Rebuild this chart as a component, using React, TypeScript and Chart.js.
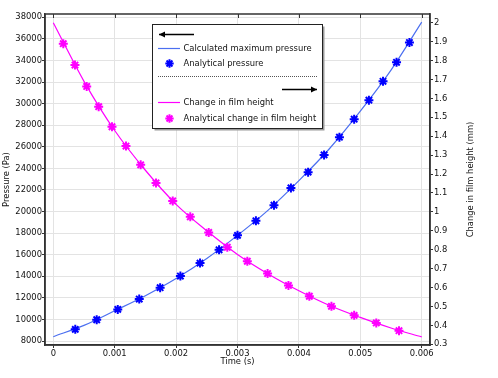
import React, { useEffect, useRef } from 'react';
import { Chart, registerables } from 'chart.js';

Chart.register(...registerables);

// ---- data ----
const lineTimes = [0, 0.0005, 0.001, 0.0015, 0.002, 0.0025, 0.003, 0.0035, 0.004, 0.0045, 0.005, 0.0055, 0.006];
const pressureLine = [8400, 9445, 10800, 12200, 13790, 15650, 17790, 20130, 22860, 25840, 29300, 33110, 37550];
const heightLine = [2.0, 1.69, 1.43, 1.22, 1.04, 0.9, 0.775, 0.672, 0.583, 0.505, 0.442, 0.386, 0.339];

const pressureMarkT = [0.000358, 0.000707, 0.00105, 0.0014, 0.00174, 0.00207, 0.00239, 0.0027, 0.003, 0.0033, 0.003594, 0.00387, 0.00415, 0.00441, 0.00466, 0.0049, 0.00514, 0.00537, 0.00559, 0.0058];
const pressureMarkP = [9080, 9970, 10930, 11890, 12940, 14020, 15220, 16450, 17790, 19140, 20590, 22190, 23650, 25250, 26890, 28560, 30320, 32070, 33830, 35660];

const heightMarkT = [0.000163, 0.000353, 0.000544, 0.000739, 0.000956, 0.001184, 0.001423, 0.001673, 0.001945, 0.002231, 0.002531, 0.002834, 0.00316, 0.00349, 0.00383, 0.00417, 0.00453, 0.0049, 0.00526, 0.00563];
const heightMarkH = [1.889, 1.776, 1.663, 1.556, 1.45, 1.348, 1.249, 1.153, 1.058, 0.974, 0.891, 0.813, 0.739, 0.674, 0.611, 0.554, 0.501, 0.453, 0.413, 0.372];

const xTicks = [0, 0.001, 0.002, 0.003, 0.004, 0.005, 0.006];
const xTickLabels = ['0', '0.001', '0.002', '0.003', '0.004', '0.005', '0.006'];
const pTicks = [8000, 10000, 12000, 14000, 16000, 18000, 20000, 22000, 24000, 26000, 28000, 30000, 32000, 34000, 36000, 38000];
const pTickLabels = pTicks.map((v) => String(v));
const hTicks = [0.3, 0.4, 0.5, 0.6, 0.7, 0.8, 0.9, 1, 1.1, 1.2, 1.3, 1.4, 1.5, 1.6, 1.7, 1.8, 1.9, 2];
const hTickLabels = ['0.3', '0.4', '0.5', '0.6', '0.7', '0.8', '0.9', '1', '1.1', '1.2', '1.3', '1.4', '1.5', '1.6', '1.7', '1.8', '1.9', '2'];

const legendLabels = ['Calculated maximum pressure', 'Analytical pressure', 'Change in film height', 'Analytical change in film height'];
const xTitle = 'Time (s)';
const yTitle = 'Pressure (Pa)';
const y1Title = 'Change in film height (mm)';

const BLUE_LINE = '#4b6ff0';
const BLUE_MARK = '#0000ff';
const MAG = '#ff00ff';
const FONT = 'DejaVu Sans';
const FS = 8.4;

const zip = (xs: number[], ys: number[]) => xs.map((x, i) => ({ x, y: ys[i] }));

function drawStar(ctx: CanvasRenderingContext2D, x: number, y: number, r: number, color: string) {
  ctx.save();
  ctx.strokeStyle = color;
  ctx.lineWidth = 2;
  ctx.beginPath();
  for (let k = 0; k < 4; k++) {
    const a = (k * Math.PI) / 4;
    ctx.moveTo(x - r * Math.cos(a), y - r * Math.sin(a));
    ctx.lineTo(x + r * Math.cos(a), y + r * Math.sin(a));
  }
  ctx.stroke();
  ctx.restore();
}

function drawArrow(ctx: CanvasRenderingContext2D, x1: number, x2: number, y: number, dir: number) {
  ctx.save();
  ctx.strokeStyle = '#000';
  ctx.fillStyle = '#000';
  ctx.lineWidth = 1.3;
  ctx.beginPath();
  ctx.moveTo(x1, y);
  ctx.lineTo(x2, y);
  ctx.stroke();
  const tip = dir < 0 ? x1 : x2;
  ctx.beginPath();
  ctx.moveTo(tip, y);
  ctx.lineTo(tip - dir * 6, y - 3);
  ctx.lineTo(tip - dir * 6, y + 3);
  ctx.closePath();
  ctx.fill();
  ctx.restore();
}

const overlay = {
  id: 'overlay',
  afterDraw(chart: any) {
    const { ctx, chartArea: a, scales } = chart;
    ctx.save();
    // frame
    ctx.strokeStyle = '#333';
    ctx.lineWidth = 1.5;
    ctx.strokeRect(a.left, a.top, a.right - a.left, a.bottom - a.top);
    // top ticks
    ctx.lineWidth = 1;
    ctx.beginPath();
    xTicks.forEach((v) => {
      const px = Math.round(scales.x.getPixelForValue(v)) + 0.5;
      ctx.moveTo(px, a.top);
      ctx.lineTo(px, a.top + 4);
    });
    ctx.stroke();

    // legend box
    const L = 152.5, T = 24.5, R = 322.5, B = 128.5;
    ctx.fillStyle = '#9a9a9a';
    ctx.fillRect(L + 2, T + 2, R - L, B - T);
    ctx.fillStyle = '#fff';
    ctx.fillRect(L, T, R - L, B - T);
    ctx.strokeStyle = '#222';
    ctx.lineWidth = 1;
    ctx.strokeRect(L, T, R - L, B - T);

    drawArrow(ctx, 159, 194, 34.5, -1);

    ctx.font = `${FS}px "${FONT}"`;
    ctx.textBaseline = 'middle';
    ctx.textAlign = 'left';
    ctx.fillStyle = '#111';

    ctx.strokeStyle = BLUE_LINE;
    ctx.lineWidth = 1.2;
    ctx.beginPath();
    ctx.moveTo(158, 48.5);
    ctx.lineTo(180, 48.5);
    ctx.stroke();
    ctx.fillText(legendLabels[0], 183.5, 48.5);

    drawStar(ctx, 169.5, 63.5, 4.2, BLUE_MARK);
    ctx.fillText(legendLabels[1], 183.5, 63.5);

    ctx.save();
    ctx.strokeStyle = '#555';
    ctx.lineWidth = 1;
    ctx.setLineDash([1, 1]);
    ctx.beginPath();
    ctx.moveTo(158, 76.5);
    ctx.lineTo(317, 76.5);
    ctx.stroke();
    ctx.restore();

    drawArrow(ctx, 282, 317, 89.5, 1);

    ctx.strokeStyle = MAG;
    ctx.lineWidth = 1.2;
    ctx.beginPath();
    ctx.moveTo(158, 102.5);
    ctx.lineTo(180, 102.5);
    ctx.stroke();
    ctx.fillStyle = '#111';
    ctx.fillText(legendLabels[2], 183.5, 102.5);

    drawStar(ctx, 169.5, 118.5, 4.2, MAG);
    ctx.fillText(legendLabels[3], 183.5, 118.5);

    // right axis title (reads bottom-to-top)
    ctx.translate(471, (a.top + a.bottom) / 2);
    ctx.rotate(-Math.PI / 2);
    ctx.textAlign = 'center';
    ctx.fillText(y1Title, 0, 0);
    ctx.restore();
  },
};

export default function App() {
  const ref = useRef<HTMLCanvasElement | null>(null);

  useEffect(() => {
    if (!ref.current) return;
    Chart.defaults.font.family = FONT;
    Chart.defaults.font.size = FS;
    Chart.defaults.color = '#111';

    const grid = '#e3e3e3';
    const chart = new Chart(ref.current, {
      type: 'line',
      data: {
        datasets: [
          {
            label: legendLabels[1],
            data: zip(pressureMarkT, pressureMarkP),
            yAxisID: 'y',
            showLine: false,
            pointStyle: 'star',
            pointRadius: 4.5,
            pointBorderWidth: 2,
            borderColor: BLUE_MARK,
            backgroundColor: BLUE_MARK,
          },
          {
            label: legendLabels[3],
            data: zip(heightMarkT, heightMarkH),
            yAxisID: 'y1',
            showLine: false,
            pointStyle: 'star',
            pointRadius: 4.5,
            pointBorderWidth: 2,
            borderColor: MAG,
            backgroundColor: MAG,
          },
          {
            label: legendLabels[0],
            data: zip(lineTimes, pressureLine),
            yAxisID: 'y',
            borderColor: BLUE_LINE,
            borderWidth: 1.2,
            pointRadius: 0,
            cubicInterpolationMode: 'monotone',
          },
          {
            label: legendLabels[2],
            data: zip(lineTimes, heightLine),
            yAxisID: 'y1',
            borderColor: MAG,
            borderWidth: 1.2,
            pointRadius: 0,
            cubicInterpolationMode: 'monotone',
          },
        ],
      },
      options: {
        responsive: false,
        animation: false,
        devicePixelRatio: 1,
        layout: { padding: { top: 14, left: 0, right: 0, bottom: 0 } },
        plugins: { legend: { display: false }, tooltip: { enabled: false } },
        scales: {
          x: {
            type: 'linear',
            min: -0.000135,
            max: 0.006135,
            afterBuildTicks: (s: any) => {
              s.ticks = xTicks.map((v) => ({ value: v }));
            },
            afterFit: (s: any) => {
              s.height = 33;
            },
            ticks: {
              callback: (_v: any, i: number) => xTickLabels[i],
              padding: 1,
              maxRotation: 0,
              autoSkip: false,
            },
            grid: { color: grid, tickLength: 3, tickColor: '#333' },
            border: { color: '#333', width: 1.5 },
            title: { display: true, text: xTitle, padding: { top: 0, bottom: 11 }, font: { size: FS } },
          },
          y: {
            type: 'linear',
            position: 'left',
            min: 7630,
            max: 38306,
            afterBuildTicks: (s: any) => {
              s.ticks = pTicks.map((v) => ({ value: v }));
            },
            afterFit: (s: any) => {
              s.width = 45;
            },
            ticks: {
              callback: (_v: any, i: number) => pTickLabels[i],
              padding: 0,
              autoSkip: false,
            },
            grid: { color: grid, tickLength: 3, tickColor: '#333' },
            border: { color: '#333', width: 1.5 },
            title: { display: true, text: yTitle, padding: { top: 2, bottom: 0 }, font: { size: FS } },
          },
          y1: {
            type: 'linear',
            position: 'right',
            min: 0.2963,
            max: 2.046,
            afterBuildTicks: (s: any) => {
              s.ticks = hTicks.map((v) => ({ value: v }));
            },
            afterFit: (s: any) => {
              s.width = 68;
            },
            ticks: {
              callback: (_v: any, i: number) => hTickLabels[i],
              padding: 1,
              autoSkip: false,
            },
            grid: { drawOnChartArea: false, tickLength: 3, tickColor: '#333' },
            border: { color: '#333', width: 1.5 },
            title: { display: false },
          },
        },
      },
      plugins: [overlay],
    } as any);
    return () => chart.destroy();
  }, []);

  return (
    <div style={{ position: 'absolute', left: 0, top: 0, width: 498, height: 378, background: '#fff' }}>
      <canvas ref={ref} width={498} height={378} style={{ width: 498, height: 378, display: 'block' }} />
    </div>
  );
}
